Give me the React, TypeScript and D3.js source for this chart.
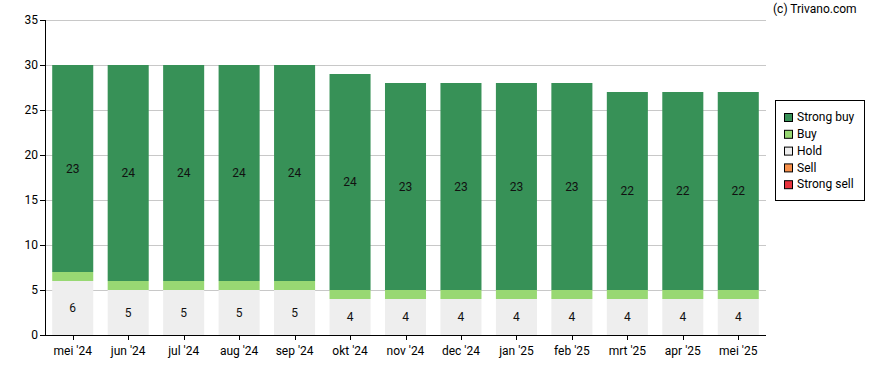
import React, { useEffect, useRef } from "react";
import * as d3 from "d3";

const months = ["mei '24", "jun '24", "jul '24", "aug '24", "sep '24", "okt '24", "nov '24", "dec '24", "jan '25", "feb '25", "mrt '25", "apr '25", "mei '25"];
const strongSell = [0, 0, 0, 0, 0, 0, 0, 0, 0, 0, 0, 0, 0];
const sell = [0, 0, 0, 0, 0, 0, 0, 0, 0, 0, 0, 0, 0];
const hold = [6, 5, 5, 5, 5, 4, 4, 4, 4, 4, 4, 4, 4];
const buy = [1, 1, 1, 1, 1, 1, 1, 1, 1, 1, 1, 1, 1];
const strongBuy = [23, 24, 24, 24, 24, 24, 23, 23, 23, 23, 22, 22, 22];
const yTicks = [0, 5, 10, 15, 20, 25, 30, 35];

const seriesKeys = ["strongSell", "sell", "hold", "buy", "strongBuy"];
const seriesLabels = ["Strong sell", "Sell", "Hold", "Buy", "Strong buy"];
const seriesColors = ["#e8333d", "#f7904a", "#eeeeee", "#98d873", "#379157"];
const labelled = ["hold", "strongBuy"];

export default function App() {
  const ref = useRef<SVGSVGElement>(null);

  useEffect(() => {
    const svg = d3.select(ref.current);
    svg.selectAll("*").remove();
    const font = "Roboto, sans-serif";

    const left = 45, right = 766, top = 20, bottom = 335;

    const rows = months.map((m, i) => ({
      month: m,
      strongSell: strongSell[i],
      sell: sell[i],
      hold: hold[i],
      buy: buy[i],
      strongBuy: strongBuy[i],
    }));

    const x = d3.scaleBand().domain(months).range([left, right]).paddingInner(0.26).paddingOuter(0.13);
    const y = d3.scaleLinear().domain([0, 35]).range([bottom, top]);

    const stacked = d3.stack<any>().keys(seriesKeys)(rows);

    // grid
    svg.append("g")
      .selectAll("line")
      .data(yTicks.filter(t => t > 0))
      .enter().append("line")
      .attr("x1", left).attr("x2", right)
      .attr("y1", d => y(d) + 0.5).attr("y2", d => y(d) + 0.5)
      .attr("stroke", "#c8c8c8").attr("stroke-width", 1);

    // bars
    const layers = svg.append("g")
      .selectAll("g")
      .data(stacked)
      .enter().append("g")
      .attr("fill", (d, i) => seriesColors[i]);

    layers.selectAll("rect")
      .data(d => d)
      .enter().append("rect")
      .attr("x", d => x(d.data.month)!)
      .attr("width", x.bandwidth())
      .attr("y", d => y(d[1]))
      .attr("height", d => y(d[0]) - y(d[1]));

    // value labels
    stacked.filter(s => labelled.includes(s.key)).forEach(s => {
      svg.append("g")
        .selectAll("text")
        .data(s.filter(d => d[1] - d[0] > 0))
        .enter().append("text")
        .attr("x", d => x(d.data.month)! + x.bandwidth() / 2)
        .attr("y", d => y((d[0] + d[1]) / 2))
        .attr("dy", "0.35em")
        .attr("text-anchor", "middle")
        .style("font-family", font)
        .style("font-size", "12px")
        .attr("fill", "#111")
        .text(d => d[1] - d[0]);
    });

    // y axis
    svg.append("line")
      .attr("x1", left + 0.5).attr("x2", left + 0.5)
      .attr("y1", top).attr("y2", bottom)
      .attr("stroke", "#000");
    const yt = svg.append("g").selectAll("g").data(yTicks).enter().append("g");
    yt.append("line")
      .attr("x1", left - 5).attr("x2", left)
      .attr("y1", d => y(d) + 0.5).attr("y2", d => y(d) + 0.5)
      .attr("stroke", "#000");
    yt.append("text")
      .attr("x", left - 7)
      .attr("y", d => y(d))
      .attr("dy", "0.35em")
      .attr("text-anchor", "end")
      .style("font-family", font)
      .style("font-size", "12px")
      .attr("fill", "#000")
      .text(d => d);

    // x axis
    svg.append("line")
      .attr("x1", left).attr("x2", right)
      .attr("y1", bottom + 0.5).attr("y2", bottom + 0.5)
      .attr("stroke", "#000");
    const xt = svg.append("g").selectAll("g").data(months).enter().append("g");
    xt.append("line")
      .attr("x1", d => Math.round(x(d)! + x.bandwidth() / 2) + 0.5)
      .attr("x2", d => Math.round(x(d)! + x.bandwidth() / 2) + 0.5)
      .attr("y1", bottom).attr("y2", bottom + 5)
      .attr("stroke", "#000");
    xt.append("text")
      .attr("x", d => x(d)! + x.bandwidth() / 2)
      .attr("y", 351)
      .attr("dy", "0.35em")
      .attr("text-anchor", "middle")
      .style("font-family", font)
      .style("font-size", "12px")
      .attr("fill", "#000")
      .text(d => d);

    // credit
    svg.append("text")
      .attr("x", 773).attr("y", 9)
      .attr("dy", "0.35em")
      .style("font-family", font)
      .style("font-size", "12px")
      .attr("fill", "#000")
      .text("(c) Trivano.com");

    // legend
    svg.append("rect")
      .attr("x", 775.5).attr("y", 100.5)
      .attr("width", 89).attr("height", 100)
      .attr("fill", "#fff").attr("stroke", "#000");
    const order = [4, 3, 2, 1, 0];
    const lg = svg.append("g").selectAll("g").data(order).enter().append("g")
      .attr("transform", (d, i) => `translate(784, ${117 + i * 16.8})`);
    lg.append("rect")
      .attr("x", 0.5).attr("y", -3.5)
      .attr("width", 8).attr("height", 8)
      .attr("fill", d => seriesColors[d])
      .attr("stroke", "#000");
    lg.append("text")
      .attr("x", 13).attr("y", 0)
      .attr("dy", "0.35em")
      .style("font-family", font)
      .style("font-size", "12px")
      .attr("fill", "#000")
      .text(d => seriesLabels[d]);
  }, []);

  return (
    <svg ref={ref} width={888} height={370} style={{ position: "absolute", left: 0, top: 0 }} />
  );
}
